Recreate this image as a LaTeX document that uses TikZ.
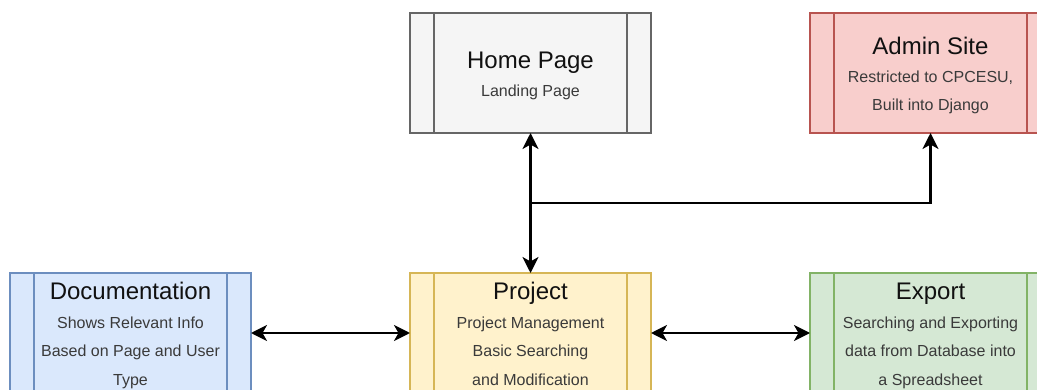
\documentclass[tikz,border=0pt]{standalone}
\usepackage{fontspec}
\setmainfont{Liberation Sans}
\usetikzlibrary{arrows.meta,calc}
\definecolor{ttl}{HTML}{111111}
\definecolor{subc}{HTML}{3A3A3A}
\definecolor{grayF}{HTML}{F5F5F5}\definecolor{grayD}{HTML}{666666}
\definecolor{redF}{HTML}{F8CECC}\definecolor{redD}{HTML}{B85450}
\definecolor{blueF}{HTML}{DAE8FC}\definecolor{blueD}{HTML}{6C8EBF}
\definecolor{yelF}{HTML}{FFF2CC}\definecolor{yelD}{HTML}{D6B656}
\definecolor{grnF}{HTML}{D5E8D4}\definecolor{grnD}{HTML}{82B366}
\newcommand\ttlline[1]{{\fontsize{24}{28.4}\selectfont\color{ttl}\rule{0pt}{22.4pt}#1}}
\newcommand\subline[1]{\rule[-3.4pt]{0pt}{3.4pt}#1}
\tikzset{
  procbox/.style={draw, line width=1.8pt, minimum width=241pt, minimum height=120pt,
    inner sep=0pt, outer sep=0pt, align=center, text=subc,
    font=\fontsize{16}{28.4}\selectfont},
  conn/.style={line width=2.2pt, black, {Stealth[length=16pt,width=16pt,inset=4.5pt]}-{Stealth[length=16pt,width=16pt,inset=4.5pt]}},
  connone/.style={line width=2.2pt, black, -{Stealth[length=16pt,width=16pt,inset=4.5pt]}}
}
\begin{document}
\begin{tikzpicture}[x=1pt,y=-1pt]
\useasboundingbox (0,0) rectangle (1037,390);
\node[procbox, fill=grayF, draw=grayD] (home) at (530.5,73)
  {\ttlline{Home Page}\\\subline{Landing Page}};
\node[procbox, fill=redF, draw=redD] (admin) at (930.5,73)
  {\ttlline{Admin Site}\\\subline{Restricted to CPCESU,}\\\subline{Built into Django}};
\node[procbox, fill=blueF, draw=blueD] (doc) at (130.5,333)
  {\ttlline{Documentation}\\\subline{Shows Relevant Info}\\\subline{Based on Page and User}\\\subline{Type}};
\node[procbox, fill=yelF, draw=yelD] (project) at (530.5,333)
  {\ttlline{Project}\\\subline{Project Management}\\\subline{Basic Searching}\\\subline{and Modification}};
\node[procbox, fill=grnF, draw=grnD] (export) at (930.5,333)
  {\ttlline{Export}\\\subline{Searching and Exporting}\\\subline{data from Database into}\\\subline{a Spreadsheet}};
\foreach \n/\c in {home/grayD, admin/redD, doc/blueD, project/yelD, export/grnD}{
  \draw[\c, line width=1.8pt] ([xshift=24pt]\n.north west) -- ([xshift=24pt]\n.south west);
  \draw[\c, line width=1.8pt] ([xshift=-24pt]\n.north east) -- ([xshift=-24pt]\n.south east);
}
\draw[conn] (home.south) -- (project.north);
\coordinate (junc) at ($(home.south)!0.5!(project.north)$);
\draw[connone] (junc) -| (admin.south);
\draw[conn] (doc.east) -- (project.west);
\draw[conn] (project.east) -- (export.west);
\end{tikzpicture}
\end{document}
